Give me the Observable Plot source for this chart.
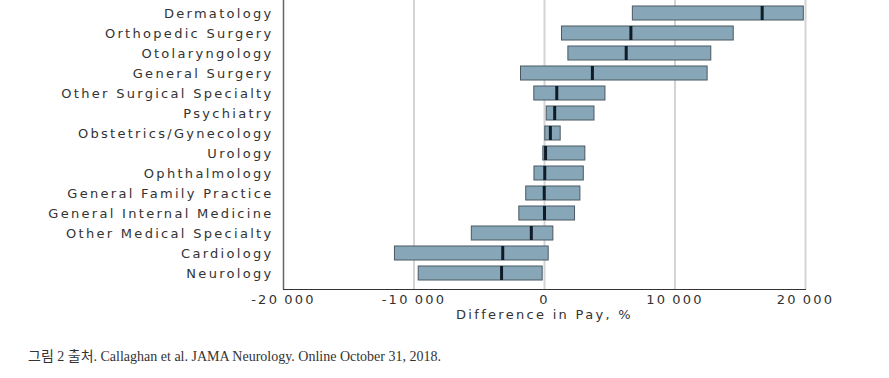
<!DOCTYPE html>
<html>
<head>
<meta charset="utf-8">
<script src="https://cdn.jsdelivr.net/npm/d3@7"></script>
<script src="https://cdn.jsdelivr.net/npm/@observablehq/plot@0.6"></script>
<style>
  body { margin: 0; background: #fff; }
  #chart svg { overflow: visible; }
  #caption {
    margin: 23px 0 0 28px;
    font-family: "Liberation Serif", "Noto Sans CJK KR", serif;
    font-size: 14px;
    color: #333;
  }
</style>
</head>
<body>
<div id="chart"></div>
<div id="caption">그림 2 출처. Callaghan et al. JAMA Neurology. Online October 31, 2018.</div>
<script>
const specialties = [
  "Dermatology", "Orthopedic Surgery", "Otolaryngology", "General Surgery",
  "Other Surgical Specialty", "Psychiatry", "Obstetrics/Gynecology", "Urology",
  "Ophthalmology", "General Family Practice", "General Internal Medicine",
  "Other Medical Specialty", "Cardiology", "Neurology"
];
const lowValues    = [6770, 1340, 1830, -1800, -780, 170, 60, -90, -770, -1400, -1930, -5570, -11460, -9640];
const medianValues = [16680, 6620, 6260, 3670, 940, 780, 450, 80, 20, -20, 0, -1010, -3200, -3290];
const highValues   = [19870, 14500, 12780, 12500, 4670, 3830, 1240, 3130, 3010, 2750, 2340, 680, 320, -140];
const xTicks = [-20000, -10000, 0, 10000, 20000];

const data = specialties.map((s, i) => ({
  specialty: s, low: lowValues[i], median: medianValues[i], high: highValues[i]
}));

const fmt = d => (d < 0 ? "-" : "") + d3.format(",")(Math.abs(d)).replace(/,/g, "\u2009");

const chart = Plot.plot({
  width: 889,
  height: 322,
  marginLeft: 283,
  marginRight: 84,
  marginTop: 0,
  marginBottom: 33,
  style: {
    fontFamily: "DejaVu Sans, sans-serif",
    fontSize: "13px",
    letterSpacing: "2.3px",
    color: "#333"
  },
  x: {
    domain: [-20000, 20000],
    ticks: xTicks,
    tickFormat: fmt,
    label: "Difference in Pay, %",
    labelArrow: "none",
    labelAnchor: "center",
    labelOffset: 29,
    tickSize: 0,
    tickPadding: 5,
    line: true
  },
  y: {
    domain: specialties,
    range: [-3, 289.7],
    padding: 0.28,
    label: null,
    tickSize: 0,
    tickPadding: 10
  },
  marks: [
    Plot.gridX(xTicks.filter(d => d > -20000), {stroke: "#d4d4d4", strokeWidth: 2, strokeOpacity: 1}),
    Plot.ruleX([-20000], {stroke: "#666", strokeWidth: 1.5, y1: null, y2: null}),
    Plot.barX(data, {y: "specialty", x1: "low", x2: "high", fill: "#87a7b8", stroke: "#4b5862", strokeWidth: 1}),
    Plot.tickX(data, {y: "specialty", x: "median", stroke: "#0f1b27", strokeWidth: 3})
  ]
});
document.getElementById("chart").appendChild(chart);
</script>
</body>
</html>
